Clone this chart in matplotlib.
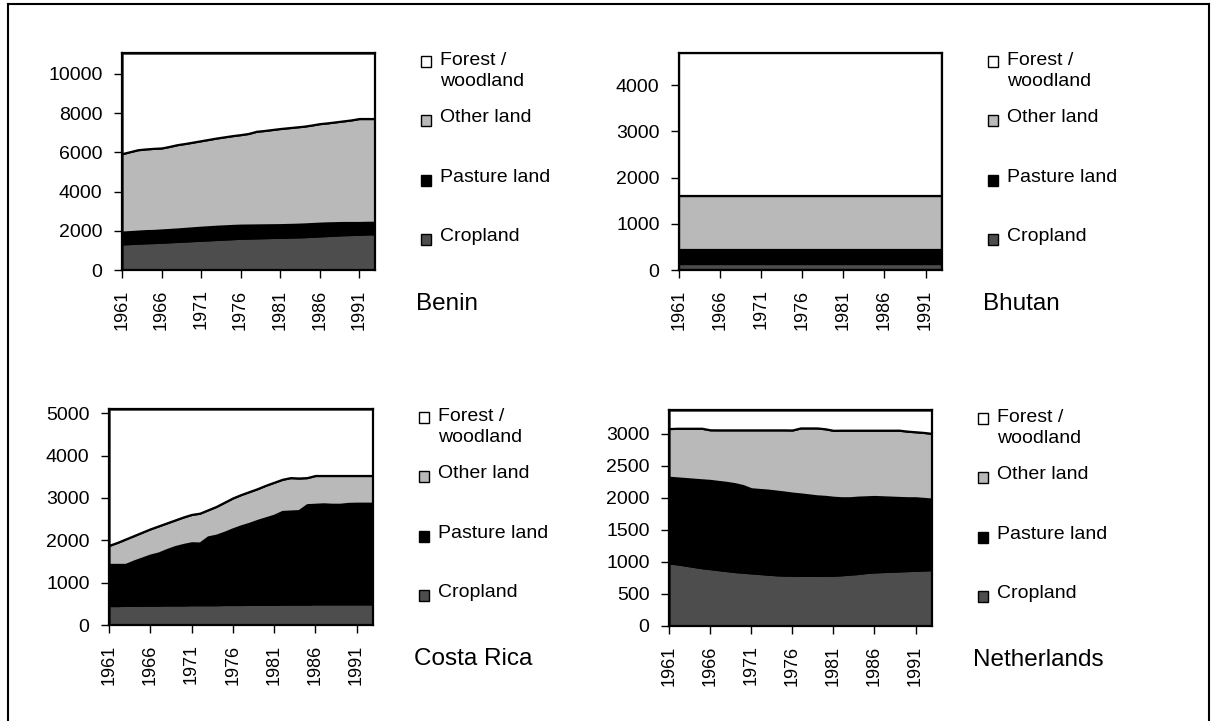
import matplotlib
matplotlib.use("Agg")
import matplotlib.pyplot as plt
from matplotlib.patches import Rectangle
from matplotlib.lines import Line2D

plt.rcParams["font.family"] = ["Liberation Sans", "DejaVu Sans"]

# ---- data (thousand hectares) ----
years = list(range(1961, 1994))
series_names = ["Forest /\nwoodland", "Other land", "Pasture land", "Cropland"]

benin_cropland = [1330, 1350, 1370, 1390, 1400, 1420, 1440, 1460, 1480, 1500, 1520,
                  1540, 1560, 1580, 1600, 1620, 1630, 1640, 1650, 1660, 1670, 1680,
                  1690, 1700, 1720, 1740, 1760, 1780, 1800, 1810, 1820, 1840, 1850]
benin_pasture = [600, 605, 610, 615, 615, 620, 625, 630, 640, 650, 660,
                 665, 670, 670, 670, 665, 660, 655, 650, 645, 640, 640,
                 640, 645, 645, 645, 640, 630, 620, 610, 600, 590, 580]
benin_other = [4000, 4075, 4150, 4165, 4185, 4180, 4235, 4300, 4330, 4370, 4410,
               4455, 4500, 4540, 4580, 4615, 4670, 4775, 4810, 4855, 4900, 4930,
               4960, 4985, 5025, 5075, 5100, 5140, 5180, 5230, 5300, 5290, 5290]
benin_land = 11060

bhutan_cropland = [130, 130, 130, 130, 130, 130, 130, 130, 130, 130, 130,
                   130, 130, 130, 130, 130, 130, 130, 130, 130, 130, 130,
                   130, 130, 130, 130, 130, 130, 130, 130, 130, 130, 130]
bhutan_pasture = [310, 310, 310, 310, 310, 310, 310, 310, 310, 310, 310,
                  310, 310, 310, 310, 310, 310, 310, 310, 310, 310, 310,
                  310, 310, 310, 310, 310, 310, 310, 310, 310, 310, 310]
bhutan_other = [1170, 1170, 1170, 1170, 1170, 1170, 1170, 1170, 1170, 1170, 1170,
                1170, 1170, 1170, 1170, 1170, 1170, 1170, 1170, 1170, 1170, 1170,
                1170, 1170, 1170, 1170, 1170, 1170, 1170, 1170, 1170, 1170, 1170]
bhutan_land = 4700

costa_cropland = [460, 460, 465, 465, 470, 470, 470, 475, 475, 475, 480,
                  480, 480, 480, 485, 485, 485, 490, 490, 490, 490, 495,
                  495, 495, 495, 500, 500, 500, 500, 500, 500, 500, 500]
costa_pasture = [970, 970, 965, 1045, 1110, 1180, 1230, 1305, 1375, 1425, 1460,
                 1455, 1600, 1640, 1705, 1785, 1855, 1910, 1980, 2040, 2100, 2185,
                 2195, 2205, 2345, 2350, 2360, 2350, 2350, 2370, 2375, 2375, 2375]
costa_other = [450, 520, 600, 600, 610, 620, 640, 630, 630, 650, 670,
               705, 640, 680, 710, 730, 740, 750, 750, 770, 780, 760,
               790, 770, 640, 680, 670, 680, 680, 660, 655, 655, 655]
costa_land = 5100

neth_cropland = [985, 970, 950, 930, 910, 896, 880, 865, 850, 840, 830,
                 820, 810, 800, 795, 793, 790, 790, 790, 792, 793, 800,
                 810, 820, 835, 845, 850, 855, 860, 865, 870, 875, 880]
neth_pasture = [1335, 1340, 1350, 1360, 1370, 1375, 1375, 1375, 1370, 1350, 1310,
                1310, 1310, 1305, 1295, 1280, 1270, 1255, 1240, 1230, 1215, 1200,
                1190, 1190, 1180, 1175, 1165, 1155, 1145, 1135, 1130, 1115, 1100]
neth_other = [760, 775, 785, 795, 805, 790, 805, 820, 840, 870, 920,
              930, 940, 955, 970, 985, 1030, 1045, 1060, 1055, 1045, 1055,
              1055, 1045, 1040, 1035, 1040, 1045, 1050, 1040, 1030, 1030, 1025]
neth_land = 3370

countries = ["Benin", "Bhutan", "Costa Rica", "Netherlands"]

# ---- styling ----
W, H = 1213, 721
fill_colors = {"Cropland": "#4d4d4d", "Pasture land": "#000000",
               "Other land": "#b9b9b9", "Forest /\nwoodland": "#ffffff"}

fig = plt.figure(figsize=(W / 100, H / 100), dpi=100)


def frac_rect(left, top, right, bottom):
    return [left / W, 1 - bottom / H, (right - left) / W, (bottom - top) / H]


def panel(box, name, crop, pasture, other, land, ystep):
    left, top, right, bottom = box
    ax = fig.add_axes(frac_rect(left, top, right, bottom))
    forest = [land - (c + p + o) for c, p, o in zip(crop, pasture, other)]
    layers = [crop, pasture, other, forest]
    colors = [fill_colors["Cropland"], fill_colors["Pasture land"],
              fill_colors["Other land"], fill_colors["Forest /\nwoodland"]]
    ax.stackplot(years, layers, colors=colors, edgecolor="black", linewidth=1.6)
    ax.set_xlim(years[0], years[-1])
    ax.set_ylim(0, land)
    ax.set_xticks(list(range(1961, 1994, 5)))
    ax.set_xticklabels([str(y) for y in range(1961, 1994, 5)], rotation=90)
    ax.set_yticks(list(range(0, int(land) + 1, ystep)))
    ax.tick_params(direction="out", length=6, width=1, colors="black")
    ax.tick_params(axis="y", labelsize=14, pad=8)
    ax.tick_params(axis="x", labelsize=13, pad=8)
    for s in ax.spines.values():
        s.set_linewidth(1.6)
        s.set_color("black")

    # legend to the right of the plot area
    entries = [("Forest /\nwoodland", 12), ("Other land", 69),
               ("Pasture land", 129), ("Cropland", 188)]
    sq_x = right + 46
    tx = right + 65
    for label, dy in entries:
        base = top + dy
        sq_top = base - 9 if label.startswith("Forest") else base - 7
        fig.patches.append(Rectangle((sq_x / W, 1 - (sq_top + 11) / H), 10 / W, 11 / H,
                                     transform=fig.transFigure, facecolor=fill_colors[label],
                                     edgecolor="black", linewidth=1.0))
        if "\n" in label:
            first, second = label.split("\n")
            fig.text(tx / W, 1 - base / H, first, fontsize=14, va="baseline", ha="left")
            fig.text(tx / W, 1 - (base + 21) / H, second, fontsize=14,
                     va="baseline", ha="left")
        else:
            fig.text(tx / W, 1 - base / H, label, fontsize=14, va="baseline", ha="left")
    fig.text((right + 41) / W, 1 - (bottom + 40) / H, name, fontsize=17.5,
             va="baseline", ha="left")
    return ax


panel((122, 53, 375, 270), countries[0], benin_cropland, benin_pasture, benin_other,
      benin_land, 2000)
panel((679, 53, 942, 270), countries[1], bhutan_cropland, bhutan_pasture, bhutan_other,
      bhutan_land, 1000)
panel((109, 409, 373, 625), countries[2], costa_cropland, costa_pasture, costa_other,
      costa_land, 1000)
panel((669, 410, 932, 626), countries[3], neth_cropland, neth_pasture, neth_other,
      neth_land, 500)

# outer frame of the page
for xs, ys in [([8, 8], [4, H + 5]), ([8, 1209], [4, 4]), ([1209, 1209], [4, H + 5])]:
    fig.lines.append(Line2D([x / W for x in xs], [1 - y / H for y in ys],
                            transform=fig.transFigure, color="black", linewidth=1.5))

fig.savefig("out.png", dpi=100, facecolor="white")
